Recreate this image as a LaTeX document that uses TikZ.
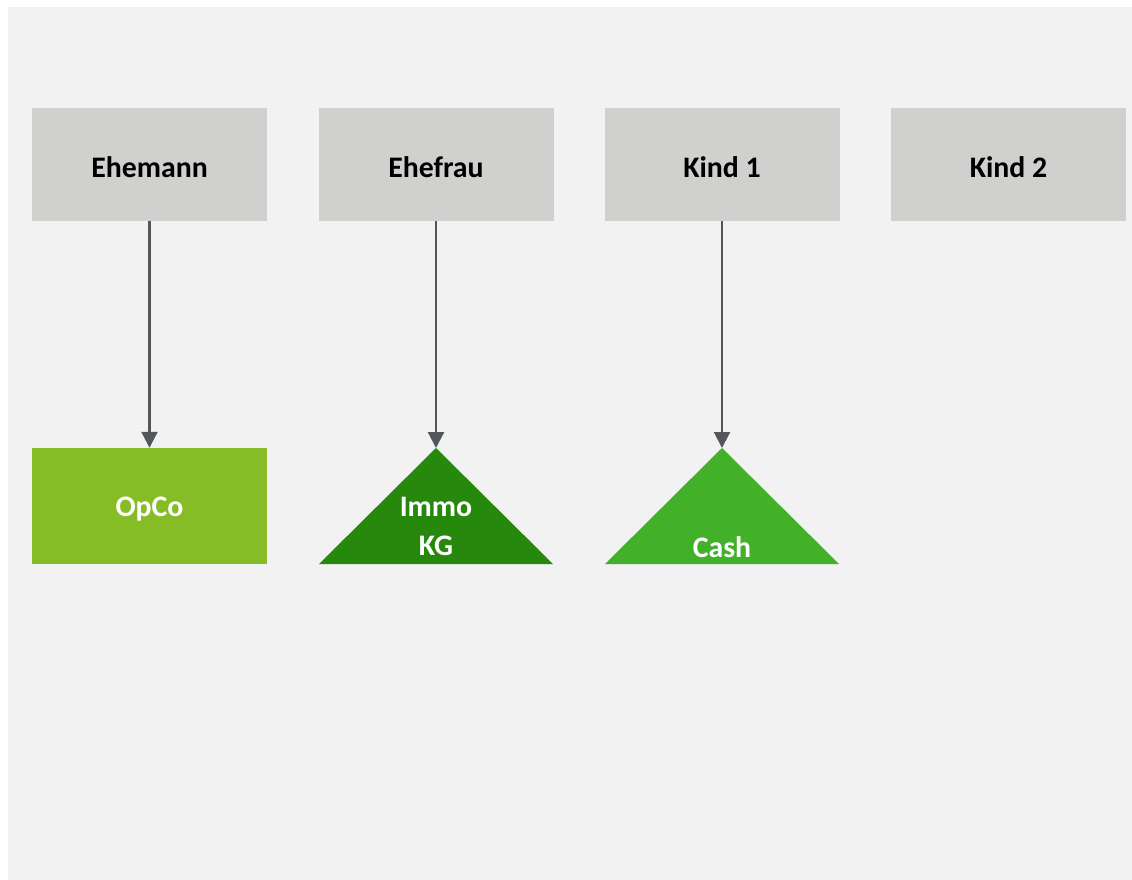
\documentclass[tikz,border=0pt]{standalone}
\usepackage{fontspec}
\setmainfont{Carlito}
\usetikzlibrary{arrows.meta}
\definecolor{bgGray}{HTML}{F2F2F2}
\definecolor{boxGray}{HTML}{D0D0CE}
\definecolor{arrowGray}{HTML}{53565A}
\definecolor{opcoGreen}{HTML}{86BC25}
\definecolor{immoGreen}{HTML}{26890D}
\definecolor{cashGreen}{HTML}{43B02A}

\begin{document}
\begin{tikzpicture}[x=1pt, y=-1pt,
  person/.style={fill=boxGray, minimum width=235pt, minimum height=113pt,
    inner sep=0pt},
  persontext/.style={inner sep=0pt, font=\fontsize{29.8}{34}\selectfont\bfseries, text=black},
  holdtext/.style={inner sep=0pt, align=center, text=white,
    font=\fontsize{29.8}{39}\selectfont\bfseries},
  owns/.style={-{Triangle[width=16pt, length=16pt]}, line width=2.2pt, color=arrowGray}]

  \useasboundingbox (0,0) rectangle (1132,880);
  \fill[bgGray] (8,7) rectangle (1132,880);

  % owners
  \node[person] (ehemann) at (149.5,164.5) {};
  \node[person] (ehefrau) at (436,164.5) {};
  \node[person] (kind1) at (722,164.5) {};
  \node[person] (kind2) at (1008.5,164.5) {};
  \node[persontext] (ehemannText) at (149.5,167) {Ehemann};
  \node[persontext] (ehefrauText) at (436,167) {Ehefrau};
  \node[persontext] (kind1Text) at (722,167) {Kind 1};
  \node[persontext] (kind2Text) at (1008.5,167) {Kind 2};

  % holdings
  \node[fill=opcoGreen, minimum width=235pt, minimum height=116pt, inner sep=0pt]
    (opco) at (149.5,506) {};
  \node[holdtext] (opcoText) at (149.5,509) {OpCo};

  \fill[immoGreen] (319,564) -- (436,448) -- (553,564) -- cycle;
  \coordinate (immoTop) at (436,448);
  \node[holdtext] (immoText) at (436,526) {Immo\\KG};

  \fill[cashGreen] (605,564) -- (722,448) -- (839,564) -- cycle;
  \coordinate (cashTop) at (722,448);
  \node[holdtext] (cashText) at (722,547) {Cash};

  % ownership arrows
  \draw[owns] (ehemann.south) -- (opco.north);
  \draw[owns] (ehefrau.south) -- (immoTop);
  \draw[owns] (kind1.south) -- (cashTop);

\end{tikzpicture}
\end{document}
